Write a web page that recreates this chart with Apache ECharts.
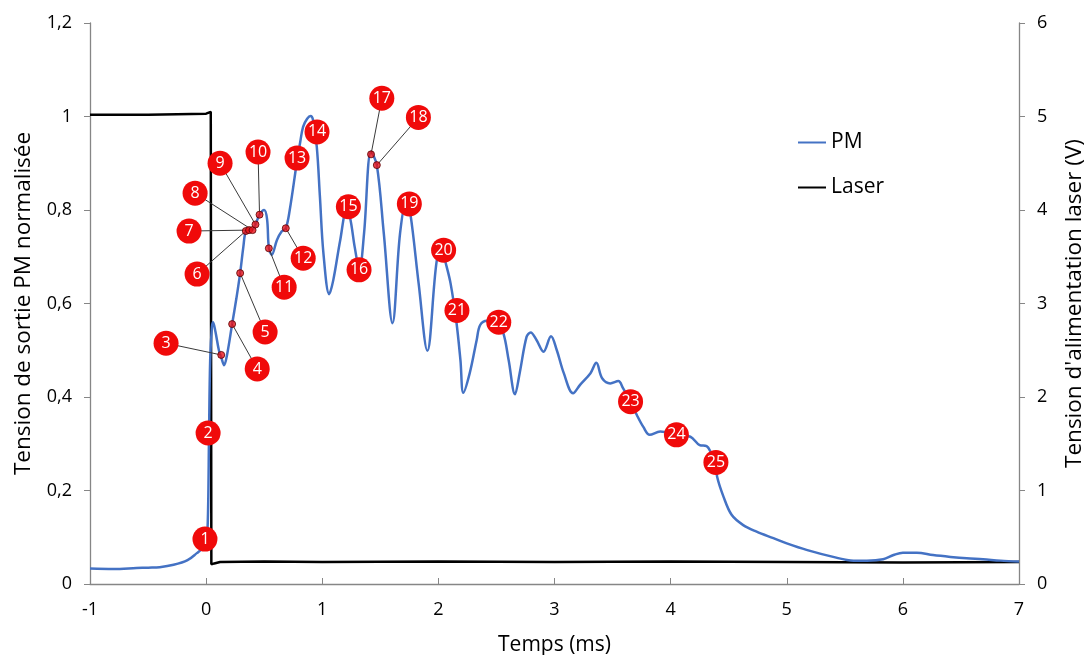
<!DOCTYPE html>
<html>
<head>
<meta charset="utf-8">
<script src="https://cdn.jsdelivr.net/npm/echarts@6/dist/echarts.min.js"></script>
<style>
html,body{margin:0;padding:0;background:#fff;}
#chart{width:1086px;height:655px;}
</style>
</head>
<body>
<div id="chart"></div>
<script>
// PM signal (time in ms, normalized voltage)
const pmT = [-1.0,-0.8,-0.6,-0.5,-0.4,-0.28,-0.16,-0.08,-0.04,0.0,0.015,0.025,0.035,0.05,0.06,0.08,0.11,0.13,0.155,0.18,0.224,0.26,0.293,0.32,0.342,0.37,0.40,0.425,0.46,0.50,0.525,0.54,0.565,0.61,0.65,0.686,0.72,0.78,0.81,0.835,0.87,0.90,0.92,0.953,0.98,1.01,1.06,1.095,1.155,1.21,1.24,1.28,1.32,1.36,1.42,1.47,1.53,1.605,1.67,1.725,1.76,1.83,1.905,1.985,2.03,2.06,2.105,2.155,2.19,2.215,2.27,2.33,2.36,2.42,2.50,2.56,2.605,2.66,2.70,2.76,2.795,2.845,2.905,2.97,3.02,3.08,3.16,3.22,3.31,3.36,3.41,3.48,3.55,3.59,3.655,3.71,3.765,3.82,3.91,4.05,4.17,4.25,4.31,4.35,4.39,4.40,4.455,4.525,4.625,4.74,4.885,5.0,5.17,5.40,5.575,5.69,5.83,5.92,6.0,6.12,6.26,6.41,6.55,6.69,6.84,7.0];
const pmV = [0.033,0.032,0.034,0.035,0.036,0.041,0.051,0.066,0.075,0.092,0.14,0.32,0.48,0.55,0.56,0.54,0.50,0.485,0.468,0.49,0.556,0.61,0.665,0.72,0.755,0.757,0.758,0.769,0.79,0.80,0.78,0.72,0.704,0.736,0.754,0.761,0.80,0.90,0.945,0.978,0.995,1.001,0.993,0.935,0.828,0.708,0.62,0.65,0.736,0.80,0.783,0.72,0.672,0.75,0.925,0.896,0.75,0.558,0.75,0.82,0.79,0.643,0.499,0.69,0.72,0.69,0.643,0.561,0.479,0.409,0.451,0.522,0.554,0.563,0.563,0.536,0.479,0.406,0.451,0.529,0.538,0.522,0.497,0.530,0.50,0.451,0.408,0.426,0.451,0.473,0.44,0.429,0.434,0.419,0.39,0.361,0.336,0.319,0.326,0.319,0.315,0.297,0.295,0.28,0.26,0.23,0.187,0.148,0.126,0.112,0.098,0.087,0.073,0.058,0.05,0.05,0.053,0.062,0.067,0.067,0.062,0.058,0.055,0.053,0.05,0.048];

// Laser supply voltage (V)
const laserT = [-1.0,-0.5,0.0,0.04,0.045,0.07,0.12,0.5,1.0,2.0,3.0,4.0,5.0,6.0,7.0];
const laserV = [5.02,5.02,5.03,5.05,0.21,0.22,0.235,0.24,0.235,0.24,0.235,0.24,0.235,0.23,0.235];

// Numbered annotation circles
const annoNum = [1,2,3,4,5,6,7,8,9,10,11,12,13,14,15,16,17,18,19,20,21,22,23,24,25];
const annoT = [-0.01,0.017,-0.345,0.44,0.508,-0.078,-0.147,-0.095,0.12,0.447,0.672,0.836,0.783,0.955,1.225,1.317,1.513,1.828,1.75,2.045,2.16,2.52,3.655,4.05,4.39];
const annoV = [0.096,0.323,0.515,0.46,0.539,0.663,0.755,0.836,0.90,0.924,0.635,0.697,0.911,0.967,0.807,0.672,1.039,0.998,0.813,0.714,0.585,0.56,0.39,0.319,0.26];

// Pointed dots (with leader lines to their numbers)
const dotNum = [3,4,5,6,7,8,9,10,11,12,17,18];
const dotT = [0.13,0.224,0.293,0.342,0.37,0.40,0.425,0.46,0.54,0.686,1.42,1.47];
const dotV = [0.49,0.556,0.665,0.755,0.757,0.757,0.769,0.79,0.718,0.761,0.919,0.896];

// Axis ticks
const xTicks = {min:-1, max:7, interval:1};
const yLeftTicks = {min:0, max:1.2, interval:0.2};
const yRightTicks = {min:0, max:6, interval:1};

const FONT = "'Open Sans', 'DejaVu Sans', sans-serif";
const pmData = pmT.map((t,i)=>[t,pmV[i]]);
const laserData = laserT.map((t,i)=>[t,laserV[i]]);
const annoData = annoT.map((t,i)=>[t,annoV[i],annoNum[i]]);
const dotData = dotT.map((t,i)=>[t,dotV[i]]);
const leaderData = dotNum.map((n,i)=>{
  const k = annoNum.indexOf(n);
  return {coords:[[annoT[k],annoV[k]],[dotT[i],dotV[i]]]};
});

const chart = echarts.init(document.getElementById('chart'), null, {renderer:'canvas'});
chart.setOption({
  animation:false,
  backgroundColor:'#fff',
  textStyle:{fontFamily:FONT},
  grid:{left:90, right:67, top:23, bottom:71, containLabel:false, outerBoundsMode:'none'},
  legend:{
    data:['PM','Laser'],
    orient:'vertical', left:793, top:127, itemGap:24,
    icon:'rect', itemWidth:28, itemHeight:2,
    textStyle:{fontSize:21, color:'#000', fontFamily:FONT}
  },
  xAxis:{
    type:'value', min:xTicks.min, max:xTicks.max, interval:xTicks.interval,
    name:'Temps (ms)', nameLocation:'middle', nameGap:51,
    nameTextStyle:{fontSize:21, color:'#000', fontFamily:FONT},
    axisLine:{show:true, onZero:false, lineStyle:{color:'#868686', width:1.3}},
    axisTick:{show:true, inside:true, length:6, lineStyle:{color:'#868686'}},
    axisLabel:{fontSize:18, color:'#000', margin:17, fontFamily:FONT},
    splitLine:{show:false}
  },
  yAxis:[{
    type:'value', min:yLeftTicks.min, max:yLeftTicks.max, interval:yLeftTicks.interval,
    name:'Tension de sortie PM normalisée', nameLocation:'middle', nameGap:55,
    nameTextStyle:{fontSize:22.5, color:'#000', fontFamily:FONT},
    axisLine:{show:true, onZero:false, lineStyle:{color:'#868686', width:1.3}},
    axisTick:{show:true, length:6, lineStyle:{color:'#868686'}},
    axisLabel:{fontSize:18, color:'#000', margin:18, fontFamily:FONT,
      formatter:v=>String(Math.round(v*10)/10).replace('.',',')},
    splitLine:{show:false}
  },{
    type:'value', min:yRightTicks.min, max:yRightTicks.max, interval:yRightTicks.interval,
    name:"Tension d'alimentation laser (V)", nameLocation:'middle', nameGap:44,
    nameRotate:90,
    nameTextStyle:{fontSize:22.5, color:'#000', fontFamily:FONT},
    axisLine:{show:true, onZero:false, lineStyle:{color:'#868686', width:1.3}},
    axisTick:{show:true, length:6, lineStyle:{color:'#868686'}},
    axisLabel:{fontSize:18, color:'#000', margin:18, fontFamily:FONT},
    splitLine:{show:false}
  }],
  series:[
    {name:'Laser', type:'line', yAxisIndex:1, data:laserData, showSymbol:false,
     lineStyle:{color:'#000', width:2.5}, itemStyle:{color:'#000'}, z:2},
    {name:'PM', type:'line', yAxisIndex:0, data:pmData, showSymbol:false, smooth:0.35,
     lineStyle:{color:'#4472C4', width:2.5}, itemStyle:{color:'#4472C4'}, z:3},
    {name:'leaders', type:'lines', coordinateSystem:'cartesian2d', xAxisIndex:0, yAxisIndex:0,
     data:leaderData, lineStyle:{color:'#3a3a3a', width:1, opacity:1}, z:4, silent:true},
    {name:'dots', type:'scatter', yAxisIndex:0, data:dotData, symbolSize:7,
     itemStyle:{color:'#E8141B', borderColor:'#5a0000', borderWidth:1}, z:5, silent:true},
    {name:'numbers', type:'scatter', yAxisIndex:0, data:annoData, symbolSize:25,
     itemStyle:{color:'#F00A0A', opacity:1}, z:6, silent:true,
     label:{show:true, position:'inside', color:'#fff', fontSize:16, fontFamily:FONT,
       formatter:p=>String(p.value[2])}}
  ]
});
</script>
</body>
</html>
